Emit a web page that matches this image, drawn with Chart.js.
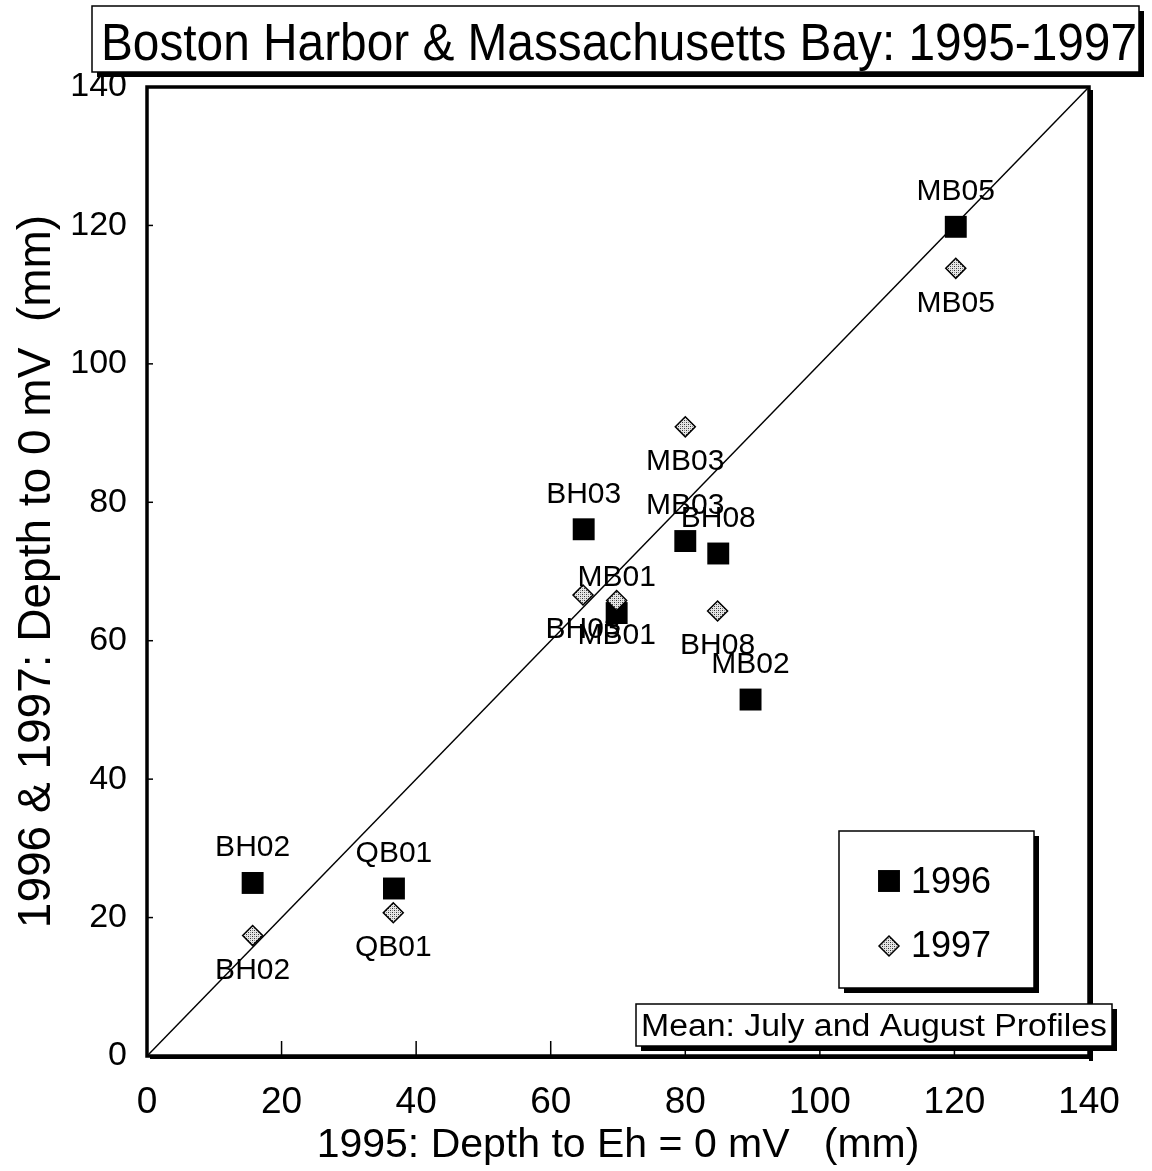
<!DOCTYPE html>
<html>
<head>
<meta charset="utf-8">
<title>Boston Harbor & Massachusetts Bay: 1995-1997</title>
<script src="https://cdn.jsdelivr.net/npm/chart.js@4/dist/chart.umd.min.js"></script>
<style>
  html, body { margin: 0; padding: 0; background: #fff; }
  #wrap { width: 1152px; height: 1171px; position: relative; }
</style>
</head>
<body>
<div id="wrap"><canvas id="rpd"></canvas></div>
<script>
// Station means, July and August profiles (mm)
const stations96 = ['BH02', 'QB01', 'BH03', 'MB01', 'MB03', 'BH08', 'MB02', 'MB05'];
const depth95_96 = [15.7, 36.7, 64.9, 69.8, 80.0, 84.9, 89.7, 120.2];
const depth96 = [25.0, 24.2, 76.1, 64.0, 74.4, 72.6, 51.5, 119.8];

const stations97 = ['BH02', 'QB01', 'BH03', 'MB01', 'MB03', 'BH08', 'MB05'];
const depth95_97 = [15.7, 36.6, 64.8, 69.8, 80.0, 84.8, 120.2];
const depth97 = [17.4, 20.7, 66.6, 65.8, 90.9, 64.3, 113.8];

const axisTicks = [0, 20, 40, 60, 80, 100, 120, 140];
const oneToOne = [0, 140];

const FONT = "'Liberation Sans', Arial, sans-serif";

// speckled grey fill for the 1997 diamonds
function speckle() {
    const c = document.createElement('canvas');
    c.width = 4; c.height = 4;
    const g = c.getContext('2d');
    g.fillStyle = '#e6e6e6';
    g.fillRect(0, 0, 4, 4);
    g.fillStyle = '#333';
    g.fillRect(0, 0, 1, 1);
    g.fillRect(2, 2, 1, 1);
    g.fillStyle = '#888';
    g.fillRect(2, 0, 1, 1);
    g.fillRect(0, 2, 1, 1);
    return g.createPattern(c, 'repeat');
}

const ctx = document.getElementById('rpd').getContext('2d');
const diamondFill = speckle();

// draw text squeezed/stretched to a given width
function fittedText(c, text, x, y, width, size, align) {
    c.save();
    c.font = size + 'px ' + FONT;
    const w = c.measureText(text).width;
    c.translate(x, y);
    c.scale(width / w, 1);
    c.textAlign = align || 'center';
    c.fillText(text, 0, 0);
    c.restore();
}

// frame with drop shadow and inward tick marks
const framePlugin = {
    id: 'frame',
    beforeDatasetsDraw(chart) {
        const c = chart.ctx, a = chart.chartArea;
        const xs = chart.scales.x, ys = chart.scales.y;
        c.save();
        c.strokeStyle = '#000';
        c.lineWidth = 1.5;
        axisTicks.forEach(v => {
            if (v > 0 && v < 140) {
                const px = xs.getPixelForValue(v);
                c.beginPath(); c.moveTo(px, a.bottom); c.lineTo(px, a.bottom - 15); c.stroke();
                const py = ys.getPixelForValue(v);
                c.beginPath(); c.moveTo(a.left, py); c.lineTo(a.left + 6, py); c.stroke();
            }
        });
        c.restore();
    },
    afterDatasetsDraw(chart) {
        const c = chart.ctx, a = chart.chartArea;
        c.save();
        c.fillStyle = '#000';
        c.fillRect(a.right, a.top + 3, 4, a.bottom - a.top + 2);
        c.fillRect(a.left + 3, a.bottom, a.right - a.left + 1, 3);
        c.strokeStyle = '#000';
        c.lineWidth = 3.5;
        c.strokeRect(a.left, a.top, a.right - a.left, a.bottom - a.top);
        c.restore();
    }
};

// station names above (1996) and below (1997) each marker
const stationLabels = {
    id: 'stationLabels',
    afterDatasetsDraw(chart) {
        const c = chart.ctx;
        c.save();
        c.font = '30px ' + FONT;
        c.fillStyle = '#000';
        c.textAlign = 'center';
        c.textBaseline = 'middle';
        chart.data.datasets.forEach((ds, i) => {
            if (!ds.names) return;
            const meta = chart.getDatasetMeta(i);
            meta.data.forEach((pt, j) => {
                c.fillText(ds.names[j], pt.x, pt.y + ds.labelShift);
            });
        });
        c.restore();
    }
};

function shadowBox(c, x, y, w, h, s) {
    c.fillStyle = '#000';
    c.fillRect(x + s, y + s, w, h);
    c.fillStyle = '#fff';
    c.fillRect(x, y, w, h);
    c.strokeStyle = '#000';
    c.lineWidth = 1.5;
    c.strokeRect(x, y, w, h);
}

// heading, legend box and note box
const boxesPlugin = {
    id: 'boxes',
    afterDraw(chart) {
        const c = chart.ctx;
        const P = Chart.helpers;
        c.save();

        // heading
        shadowBox(c, 92, 6, 1047, 66, 5);
        c.fillStyle = '#000';
        c.textBaseline = 'alphabetic';
        fittedText(c, 'Boston Harbor & Massachusetts Bay: 1995-1997', 619, 60, 1036, 51);

        // legend
        shadowBox(c, 839, 831, 195, 157, 5);
        c.lineWidth = 1.5;
        P.drawPoint(c, { pointStyle: 'rect', radius: 15.5, borderWidth: 0 }, 889, 881);
        c.fillStyle = '#000';
        c.fill();
        c.fillStyle = diamondFill;
        c.strokeStyle = '#000';
        P.drawPoint(c, { pointStyle: 'rectRot', radius: 10, borderWidth: 1.5 }, 889, 946);
        c.font = '36px ' + FONT;
        c.fillStyle = '#000';
        c.textAlign = 'left';
        c.fillText('1996', 911, 893);
        c.fillText('1997', 911, 957);

        // note
        shadowBox(c, 636, 1004, 476, 42, 5);
        c.fillStyle = '#000';
        fittedText(c, 'Mean: July and August Profiles', 641, 1036, 466, 31, 'left');
        c.restore();
    }
};

new Chart(ctx, {
    type: 'scatter',
    data: {
        datasets: [
            {
                label: '1997',
                data: depth95_97.map((x, i) => ({ x: x, y: depth97[i] })),
                names: stations97,
                labelShift: 35,
                pointStyle: 'rectRot',
                pointRadius: 10,
                backgroundColor: diamondFill,
                borderColor: '#000',
                borderWidth: 1.5,
                order: 1
            },
            {
                label: '1996',
                data: depth95_96.map((x, i) => ({ x: x, y: depth96[i] })),
                names: stations96,
                labelShift: -35,
                pointStyle: 'rect',
                pointRadius: 15.5,
                backgroundColor: '#000',
                borderColor: '#000',
                borderWidth: 0,
                order: 2
            },
            {
                label: '1:1',
                data: oneToOne.map(v => ({ x: v, y: v })),
                showLine: true,
                pointRadius: 0,
                borderColor: '#000',
                borderWidth: 1.5,
                order: 3
            }
        ]
    },
    options: {
        responsive: true,
        maintainAspectRatio: false,
        animation: false,
        events: [],
        layout: { padding: { top: 87, right: 63, left: 0, bottom: 0 } },
        scales: {
            x: {
                type: 'linear',
                min: axisTicks[0],
                max: axisTicks[axisTicks.length - 1],
                afterBuildTicks: s => { s.ticks = axisTicks.map(v => ({ value: v })); },
                afterFit: s => { s.height = 115; },
                grid: { display: false, drawTicks: false },
                border: { display: false },
                ticks: { color: '#000', padding: 25, font: { family: FONT, size: 37 } },
                title: {
                    display: true,
                    text: '1995: Depth to Eh = 0 mV   (mm)',
                    color: '#000',
                    font: { family: FONT, size: 41 },
                    padding: { top: 0, bottom: 1 }
                }
            },
            y: {
                type: 'linear',
                min: axisTicks[0],
                max: axisTicks[axisTicks.length - 1],
                afterBuildTicks: s => { s.ticks = axisTicks.map(v => ({ value: v })); },
                afterFit: s => { s.width = 147; },
                grid: { display: false, drawTicks: false },
                border: { display: false },
                ticks: { color: '#000', padding: 20, font: { family: FONT, size: 34 } },
                title: {
                    display: true,
                    text: '1996 & 1997: Depth to 0 mV  (mm)',
                    color: '#000',
                    font: { family: FONT, size: 46 },
                    padding: { top: 10, bottom: 0 }
                }
            }
        },
        plugins: {
            legend: { display: false },
            tooltip: { enabled: false },
            title: { display: false }
        }
    },
    plugins: [framePlugin, stationLabels, boxesPlugin]
});
</script>
</body>
</html>
